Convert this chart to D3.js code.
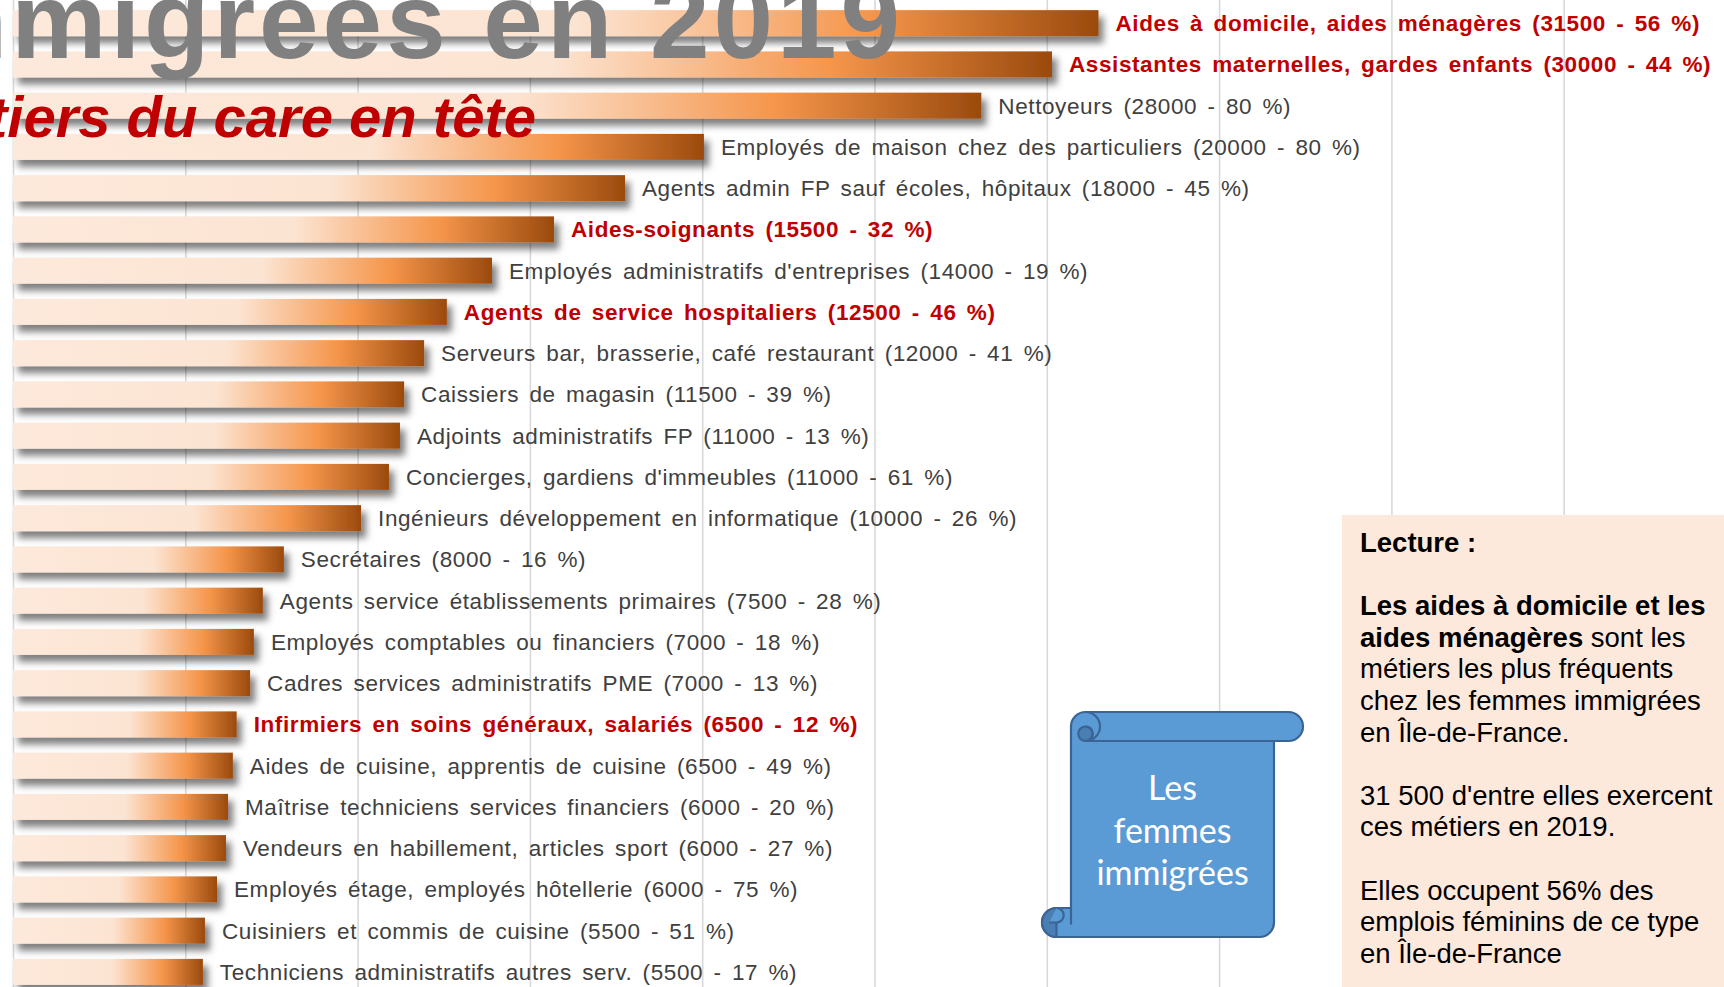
<!DOCTYPE html>
<html lang="fr">
<head>
<meta charset="utf-8">
<script src="https://cdn.jsdelivr.net/npm/d3@7/dist/d3.min.js"></script>
<style>
  html, body { margin: 0; padding: 0; background: #fff; overflow: hidden; }
  svg { display: block; font-family: "Liberation Sans", Arial, sans-serif; }
</style>
</head>
<body>
<svg id="chart" width="1724" height="987"></svg>
<script>
// métiers les plus fréquents des femmes immigrées en IdF, 2019
const jobs = [
  "Aides à domicile", "Assistantes maternelles", "Nettoyeurs", "Employés de maison",
  "Agents admin FP", "Aides-soignants", "Employés administratifs", "Agents de service hospitaliers",
  "Serveurs", "Caissiers", "Adjoints administratifs FP", "Concierges",
  "Ingénieurs informatique", "Secrétaires", "Agents service établissements", "Employés comptables",
  "Cadres services administratifs", "Infirmiers", "Aides de cuisine", "Maîtrise techniciens",
  "Vendeurs", "Employés étage", "Cuisiniers", "Techniciens administratifs"
];

// bar lengths
const jobCounts = [
  31500, 30150, 28100, 20050, 17760, 15700, 13900, 12590,
  11930, 11350, 11230, 10910, 10100, 7860, 7250, 6990,
  6880, 6490, 6380, 6240, 6180, 5920, 5570, 5510
];

const jobLabels = [
  "Aides à domicile, aides ménagères (31500 - 56 %)",
  "Assistantes maternelles, gardes enfants (30000 - 44 %)",
  "Nettoyeurs (28000 - 80 %)",
  "Employés de maison chez des particuliers (20000 - 80 %)",
  "Agents admin FP sauf écoles, hôpitaux (18000 - 45 %)",
  "Aides-soignants (15500 - 32 %)",
  "Employés administratifs d'entreprises (14000 - 19 %)",
  "Agents de service hospitaliers (12500 - 46 %)",
  "Serveurs bar, brasserie, café restaurant (12000 - 41 %)",
  "Caissiers de magasin (11500 - 39 %)",
  "Adjoints administratifs FP (11000 - 13 %)",
  "Concierges, gardiens d'immeubles (11000 - 61 %)",
  "Ingénieurs développement en informatique (10000 - 26 %)",
  "Secrétaires (8000 - 16 %)",
  "Agents service établissements primaires (7500 - 28 %)",
  "Employés comptables ou financiers (7000 - 18 %)",
  "Cadres services administratifs PME (7000 - 13 %)",
  "Infirmiers en soins généraux, salariés (6500 - 12 %)",
  "Aides de cuisine, apprentis de cuisine (6500 - 49 %)",
  "Maîtrise techniciens services financiers (6000 - 20 %)",
  "Vendeurs en habillement, articles sport (6000 - 27 %)",
  "Employés étage, employés hôtellerie (6000 - 75 %)",
  "Cuisiniers et commis de cuisine (5500 - 51 %)",
  "Techniciens administratifs autres serv. (5500 - 17 %)"
];

// métiers du care, in red
const careJobs = ["Aides à domicile", "Assistantes maternelles", "Aides-soignants",
  "Agents de service hospitaliers", "Infirmiers"];

const gridTicks = [0, 5000, 10000, 15000, 20000, 25000, 30000, 35000, 40000, 45000];

const titleText = "Les femmes immigrées en 2019";
const subtitleText = "Les métiers du care en tête";
const scrollText = ["Les", "femmes", "immigrées"];

const lectureLines = [
  [["Lecture :", true]],
  [],
  [["Les aides à domicile et les", true]],
  [["aides ménagères", true], [" sont les", false]],
  [["métiers les plus fréquents", false]],
  [["chez les femmes immigrées", false]],
  [["en Île-de-France.", false]],
  [],
  [["31 500 d'entre elles exercent", false]],
  [["ces métiers en 2019.", false]],
  [],
  [["Elles occupent 56% des", false]],
  [["emplois féminins de ce type", false]],
  [["en Île-de-France", false]]
];

const width = 1724;
const height = 987;

const svg = d3.select("#chart");
const defs = svg.append("defs");

const grad = defs.append("linearGradient").attr("id", "barGrad");
grad.append("stop").attr("offset", "0").attr("stop-color", "#fde9db");
grad.append("stop").attr("offset", "0.52").attr("stop-color", "#fce4d2");
grad.append("stop").attr("offset", "0.79").attr("stop-color", "#f5954a");
grad.append("stop").attr("offset", "1").attr("stop-color", "#9b4a0d");

defs.append("filter").attr("id", "shadow")
    .attr("x", "-5%").attr("y", "-50%").attr("width", "115%").attr("height", "250%")
  .append("feDropShadow")
    .attr("dx", 5).attr("dy", 7).attr("stdDeviation", 3.5)
    .attr("flood-color", "#000").attr("flood-opacity", 0.5);

const x = d3.scaleLinear().domain([0, 50000]).range([13, 1736]);
const y = d3.scaleBand().domain(jobs).range([2.5, 992.5]).paddingInner(0.37).paddingOuter(0.185);

// vertical gridlines
svg.append("g")
    .attr("class", "grid")
    .attr("transform", `translate(0,${height})`)
    .call(d3.axisTop(x).tickValues(gridTicks).tickSize(height).tickFormat(""))
    .call(g => g.select(".domain").remove())
    .call(g => g.selectAll("line").attr("stroke", "#d9d9d9").attr("stroke-width", 1.6));

// bars
svg.append("g")
  .selectAll("rect")
  .data(jobs)
  .join("rect")
    .attr("x", x(0))
    .attr("y", d => y(d))
    .attr("width", (d, i) => x(jobCounts[i]) - x(0))
    .attr("height", y.bandwidth())
    .attr("fill", "url(#barGrad)")
    .attr("filter", "url(#shadow)");

// labels
svg.append("g")
  .selectAll("text")
  .data(jobs)
  .join("text")
    .attr("x", (d, i) => x(jobCounts[i]) + 17)
    .attr("y", d => y(d) + y.bandwidth() / 2)
    .attr("dy", "0.35em")
    .style("font-size", "22.5px")
    .style("letter-spacing", "0.6px")
    .style("word-spacing", "3.5px")
    .attr("font-weight", d => careJobs.includes(d) ? "bold" : "normal")
    .attr("fill", d => careJobs.includes(d) ? "#c00000" : "#404040")
    .text((d, i) => jobLabels[i]);

// titles (cut by the top-left edge)
svg.append("text")
    .attr("x", 904).attr("y", 58)
    .attr("text-anchor", "end")
    .attr("font-weight", "bold")
    .style("font-size", "107px")
    .style("letter-spacing", "4px")
    .attr("fill", "#808080")
    .text(titleText);

svg.append("text")
    .attr("x", 536).attr("y", 137)
    .attr("text-anchor", "end")
    .attr("font-weight", "bold")
    .attr("font-style", "italic")
    .style("font-size", "58px")
    .attr("fill", "#c00000")
    .text(subtitleText);

// lecture box
const box = svg.append("g");
box.append("rect")
    .attr("x", 1342).attr("y", 515)
    .attr("width", width - 1342).attr("height", height - 515)
    .attr("fill", "#fce9dc");

const lectureText = box.append("text")
    .style("font-size", "27.5px")
    .style("white-space", "pre")
    .attr("fill", "#000");
lectureLines.forEach((line, i) => {
    line.forEach((part, j) => {
        const ts = lectureText.append("tspan")
            .attr("font-weight", part[1] ? "bold" : "normal")
            .text(part[0]);
        if (j === 0) ts.attr("x", 1360).attr("y", 552 + i * 31.6);
    });
});

// scroll shape
const L = 1042, T = 712, R = 1303, B = 937, ch = 29, r = ch / 2;
const x1 = L + ch, x2 = R - ch;
const scroll = svg.append("g")
    .attr("stroke", "#3b6496").attr("stroke-width", 2.2).attr("stroke-linejoin", "round");

const body = d3.path();
body.moveTo(x1, T + r);
body.arc(x1 + r, T + r, r, Math.PI, 1.5 * Math.PI);
body.lineTo(R - r, T);
body.arc(R - r, T + r, r, -0.5 * Math.PI, 0.5 * Math.PI);
body.lineTo(x2, T + ch);
body.lineTo(x2, B - r);
body.arc(x2 - r, B - r, r, 0, 0.5 * Math.PI);
body.lineTo(L + r, B);
body.arc(L + r, B - r, r, 0.5 * Math.PI, 1.5 * Math.PI);
body.lineTo(x1, B - ch);
body.closePath();
scroll.append("path").attr("d", body.toString()).attr("fill", "#5b9bd5");

// top curl
scroll.append("circle").attr("cx", x1 + r).attr("cy", T + ch * 0.75).attr("r", r / 2)
    .attr("fill", "#4a7fb3");
const topCurl = d3.path();
topCurl.moveTo(x1 + r, T);
topCurl.arc(x1 + r, T + r, r, -0.5 * Math.PI, 0.5 * Math.PI);
topCurl.lineTo(x2, T + ch);
scroll.append("path").attr("d", topCurl.toString()).attr("fill", "none");
const topCurl2 = d3.path();
topCurl2.moveTo(x1 + r, T + r);
topCurl2.arc(x1 + r, T + ch * 0.75, r / 2, -0.5 * Math.PI, 0.5 * Math.PI);
scroll.append("path").attr("d", topCurl2.toString()).attr("fill", "none");

// bottom curl
const botCurl = d3.path();
botCurl.moveTo(L + r, B - ch);
botCurl.arc(L + r, B - r, r, -0.5 * Math.PI, 0.5 * Math.PI, true);
botCurl.closePath();
scroll.append("path").attr("d", botCurl.toString()).attr("fill", "#4a7fb3");
const botCurl2 = d3.path();
botCurl2.moveTo(L + r, B - ch);
botCurl2.arc(L + r, B - ch * 0.75, r / 2, -0.5 * Math.PI, 0.5 * Math.PI);
botCurl2.lineTo(L + r - r / 2, B - r);
scroll.append("path").attr("d", botCurl2.toString()).attr("fill", "#5b9bd5");
scroll.append("line").attr("x1", x1).attr("x2", x1).attr("y1", B - ch).attr("y2", B - r + 2);

svg.append("g")
  .selectAll("text")
  .data(scrollText)
  .join("text")
    .attr("x", (x1 + x2) / 2)
    .attr("y", (d, i) => 800 + i * 42.5)
    .attr("text-anchor", "middle")
    .attr("fill", "#fff")
    .style("font-family", "Lato, 'Open Sans', sans-serif")
    .style("font-size", "34px")
    .text(d => d);
</script>
</body>
</html>
